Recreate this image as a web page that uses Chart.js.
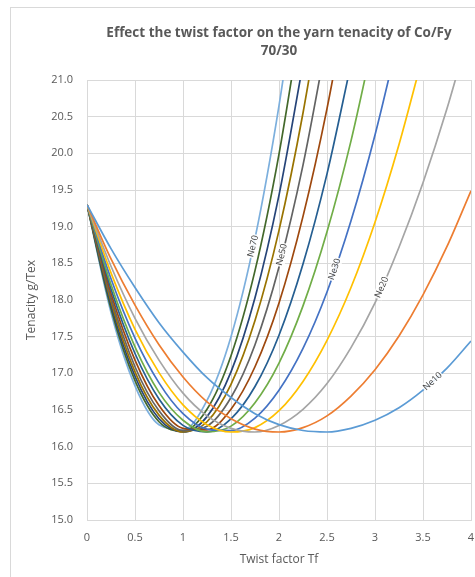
<!DOCTYPE html>
<html>
<head>
<meta charset="utf-8">
<script src="https://cdn.jsdelivr.net/npm/chart.js@4/dist/chart.umd.min.js"></script>
<style>
  html, body { margin: 0; padding: 0; background: #fff; }
  #wrap { position: relative; width: 475px; height: 577px; }
  #frame { position: absolute; left: 10px; top: 7px; width: 480px; height: 600px; border: 1px solid #d9d9d9; box-sizing: border-box; }
  canvas { position: absolute; left: 0; top: 0; }
</style>
</head>
<body>
<div id="wrap">
  <div id="frame"></div>
  <canvas id="chart" width="475" height="577"></canvas>
</div>
<script>
// twist factor grid (x axis)
const twistFactor = [0, 0.25, 0.5, 0.75, 1, 1.25, 1.5, 1.75, 2, 2.25, 2.5, 2.75, 3, 3.25, 3.5, 3.75, 4];

// tenacity g/Tex for each yarn count
const ne10 = [19.3, 18.70, 18.17, 17.69, 17.29, 16.94, 16.67, 16.45, 16.30, 16.22, 16.20, 16.25, 16.36, 16.53, 16.77, 17.07, 17.44];
const ne15 = [19.3, 18.56, 17.93, 17.39, 16.95, 16.61, 16.38, 16.24, 16.20, 16.26, 16.42, 16.69, 17.05, 17.51, 18.07, 18.73, 19.49];
const ne20 = [19.3, 18.46, 17.75, 17.18, 16.73, 16.42, 16.25, 16.20, 16.29, 16.51, 16.86, 17.35, 17.96, 18.72, 19.60, 20.61, 21.76];
const ne25 = [19.3, 18.37, 17.60, 17.01, 16.57, 16.30, 16.20, 16.26, 16.49, 16.89, 17.45, 18.17, 19.06, 20.12, 21.34];
const ne30 = [19.3, 18.29, 17.48, 16.87, 16.45, 16.24, 16.22, 16.39, 16.77, 17.34, 18.11, 19.08, 20.25, 21.61];
const ne35 = [19.3, 18.21, 17.36, 16.74, 16.36, 16.20, 16.28, 16.60, 17.14, 17.92, 18.93, 20.17, 21.65];
const ne40 = [19.3, 18.15, 17.27, 16.65, 16.29, 16.20, 16.38, 16.82, 17.52, 18.49, 19.72, 21.22];
const ne45 = [19.3, 18.09, 17.18, 16.56, 16.25, 16.23, 16.51, 17.09, 17.96, 19.14, 20.61, 22.38];
const ne50 = [19.3, 18.03, 17.09, 16.49, 16.22, 16.28, 16.67, 17.39, 18.45, 19.84, 21.56];
const ne55 = [19.3, 17.98, 17.02, 16.43, 16.20, 16.34, 16.85, 17.72, 18.95, 20.55, 22.51];
const ne60 = [19.3, 17.93, 16.96, 16.38, 16.20, 16.41, 17.02, 18.03, 19.43, 21.22];
const ne65 = [19.3, 17.88, 16.90, 16.34, 16.21, 16.51, 17.24, 18.40, 19.99, 22.00];
const ne70 = [19.3, 17.83, 16.83, 16.30, 16.23, 16.63, 17.50, 18.84, 20.65, 22.93];

const seriesNames  = ['Ne10', 'Ne15', 'Ne20', 'Ne25', 'Ne30', 'Ne35', 'Ne40', 'Ne45', 'Ne50', 'Ne55', 'Ne60', 'Ne65', 'Ne70'];
const seriesValues = [ne10, ne15, ne20, ne25, ne30, ne35, ne40, ne45, ne50, ne55, ne60, ne65, ne70];
const seriesColors = ['#5b9bd5', '#ed7d31', '#a5a5a5', '#ffc000', '#4472c4', '#70ad47', '#255e91',
                      '#9e480e', '#636363', '#997300', '#264478', '#43682b', '#7cafdd'];

// curve labels: series name and twist factor where the label sits
const labelNames = ['Ne70', 'Ne50', 'Ne30', 'Ne20', 'Ne10'];
const labelAt    = [1.73, 2.03, 2.58, 3.07, 3.6];

const titleLines = ['Effect the twist factor on the yarn tenacity of Co/Fy', '70/30'];

const datasets = seriesValues.map((vals, i) => ({
  label: seriesNames[i],
  data: vals.map((v, k) => ({ x: twistFactor[k], y: v })),
  borderColor: seriesColors[i],
  backgroundColor: seriesColors[i],
  borderWidth: 1.7,
  pointRadius: 0,
  cubicInterpolationMode: 'monotone',
  fill: false
}));

// title centred over the plot area
const titlePlugin = {
  id: 'plotTitle',
  afterDraw(chart) {
    const { ctx, chartArea } = chart;
    const cx = (chartArea.left + chartArea.right) / 2;
    ctx.save();
    ctx.font = 'bold 13.5px "Open Sans"';
    ctx.fillStyle = '#595959';
    ctx.textAlign = 'center';
    ctx.textBaseline = 'middle';
    ctx.fillText(titleLines[0], cx, 33);
    ctx.fillText(titleLines[1], cx, 51);
    ctx.restore();
  }
};

// Ne labels written along their curve
const curveLabelPlugin = {
  id: 'curveLabels',
  afterDatasetsDraw(chart) {
    const { ctx } = chart;
    const xs = chart.scales.x, ys = chart.scales.y;
    labelNames.forEach((name, j) => {
      const vals = seriesValues[seriesNames.indexOf(name)];
      const tx = labelAt[j];
      let k = 0;
      while (k < vals.length - 2 && twistFactor[k + 1] < tx) k++;
      const t = (tx - twistFactor[k]) / (twistFactor[k + 1] - twistFactor[k]);
      const ty = vals[k] + t * (vals[k + 1] - vals[k]);
      const px = xs.getPixelForValue(tx), py = ys.getPixelForValue(ty);
      const dx = xs.getPixelForValue(twistFactor[k + 1]) - xs.getPixelForValue(twistFactor[k]);
      const dy = ys.getPixelForValue(vals[k + 1]) - ys.getPixelForValue(vals[k]);
      ctx.save();
      ctx.translate(px, py);
      ctx.rotate(Math.atan2(dy, dx));
      ctx.font = '9px "Open Sans"';
      const w = ctx.measureText(name).width;
      ctx.fillStyle = 'rgba(255,255,255,0.85)';
      ctx.fillRect(-w / 2 - 1, -5, w + 2, 10);
      ctx.fillStyle = '#404040';
      ctx.textAlign = 'center';
      ctx.textBaseline = 'middle';
      ctx.fillText(name, 0, 0);
      ctx.restore();
    });
  }
};

new Chart(document.getElementById('chart').getContext('2d'), {
  type: 'line',
  data: { datasets },
  options: {
    responsive: false,
    animation: false,
    layout: { padding: { left: 10, top: 80, right: 4, bottom: 0 } },
    plugins: { legend: { display: false }, tooltip: { enabled: false } },
    scales: {
      x: {
        type: 'linear',
        min: 0, max: 4,
        afterFit: s => { s.height = 57; s.paddingRight = 0; },
        grid: { color: '#d9d9d9', drawTicks: false },
        border: { color: '#d9d9d9' },
        ticks: { stepSize: 0.5, padding: 11, color: '#595959', font: { family: 'Open Sans', size: 11 }, callback: v => String(v) },
        title: { display: true, text: 'Twist factor Tf', color: '#595959', font: { family: 'Open Sans', size: 12 }, padding: { top: 0, bottom: 10 } }
      },
      y: {
        min: 15, max: 21,
        afterFit: s => { s.width = 77; },
        grid: { color: '#d9d9d9', drawTicks: false },
        border: { color: '#d9d9d9' },
        ticks: { stepSize: 0.5, padding: 14, color: '#595959', font: { family: 'Open Sans', size: 11 }, callback: v => v.toFixed(1) },
        title: { display: true, text: 'Tenacity g/Tex', color: '#595959', font: { family: 'Open Sans', size: 12 }, padding: { top: 14, bottom: 0 } }
      }
    }
  },
  plugins: [titlePlugin, curveLabelPlugin]
});
</script>
</body>
</html>
